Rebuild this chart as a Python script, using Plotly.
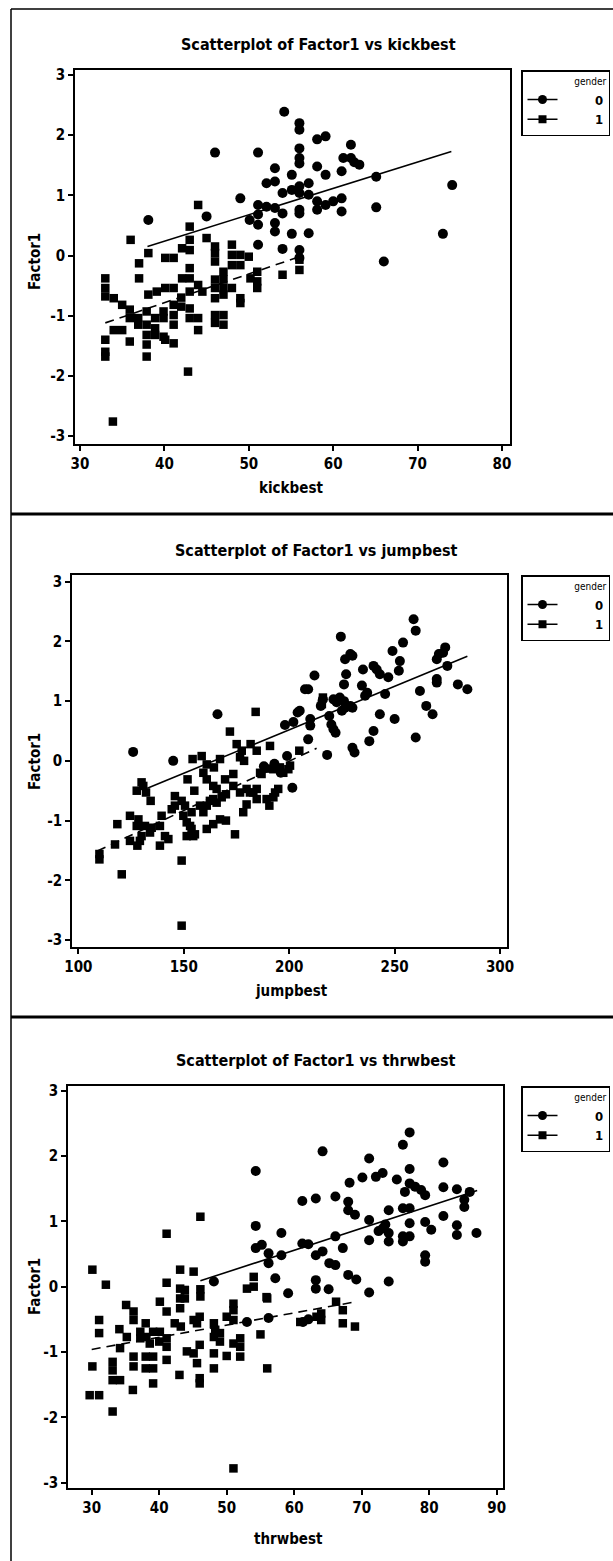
import plotly.graph_objects as go

W, H = 613, 1561

# ---------------- data ----------------
variables = ["kickbest", "jumpbest", "thrwbest"]
genders = ["0", "1"]
y_ticks = [-3, -2, -1, 0, 1, 2, 3]
y_tick_labels = ["-3", "-2", "-1", "0", "1", "2", "3"]
kick_ticks = [30, 40, 50, 60, 70, 80]
jump_ticks = [100, 150, 200, 250, 300]
thrw_ticks = [30, 40, 50, 60, 70, 80, 90]

# kickbest, gender 0 (circles)
kick_g0 = [(54.2, 2.39), (56, 2.2), (56, 2.09), (46, 1.71), (51.1, 1.71), (56, 1.78), (56, 1.53),
           (58.1, 1.93), (59.1, 1.98), (62.1, 1.84), (61.2, 1.62), (62.1, 1.62), (63.1, 1.51),
           (61, 1.40), (53.1, 1.45), (55.1, 1.34), (52.1, 1.2), (53.1, 1.23), (58.1, 1.48),
           (59.1, 1.34), (57.1, 1.2), (65.1, 1.31), (74.1, 1.17), (49, 0.95), (54, 1.04),
           (55.1, 1.09), (56, 1.15), (56, 1.04), (57.1, 1.01), (58.1, 0.9), (59.1, 0.84), (60, 0.9),
           (61, 0.95), (58.1, 0.76), (61, 0.73), (65.1, 0.8), (51.1, 0.84), (52.1, 0.81), (53.1, 0.79),
           (54, 0.7), (56, 0.76), (56, 0.7), (51.1, 0.68), (50.1, 0.59), (51.1, 0.51), (53.1, 0.54),
           (53.1, 0.4), (55.1, 0.36), (57.1, 0.37), (73, 0.36), (38.1, 0.59), (45, 0.65), (51.1, 0.18),
           (54, 0.11), (56, 0.09), (56, -0.04), (66, -0.1), (56, 1.62), (62.5, 1.55)]
# kickbest, gender 1 (squares)
kick_g1 = [(44, 0.84), (43, 0.48), (36, 0.26), (38.1, 0.04), (37, -0.13), (37, -0.38), (40.1, -0.04),
           (41.1, -0.04), (43, 0.26), (43, 0.09), (42.1, 0.12), (45, 0.29), (46, 0.15), (46, 0.04),
           (46, -0.1), (48, 0.18), (48, 0.01), (49, 0.01), (50, -0.02), (47, -0.27), (47, -0.40),
           (48, -0.16), (49, -0.16), (46, -0.4), (46, -0.54), (46, -0.71), (43, -0.21), (43, -0.38),
           (42.1, -0.38), (44, -0.49), (43, -0.6), (41.1, -0.54), (40.1, -0.54), (39.1, -0.6),
           (38.1, -0.65), (48, -0.54), (49, -0.71), (49, -0.79), (47, -0.54), (47, -0.65), (51, -0.27),
           (51, -0.43), (51, -0.54), (50.2, -0.38), (54, -0.32), (56, -0.07), (56, -0.24), (33, -0.38),
           (33, -0.54), (33, -0.68), (34, -0.71), (35, -0.82), (35.9, -0.9), (35.9, -1.04), (36.9, -1.04),
           (36.9, -1.15), (37.9, -0.93), (37.9, -1.15), (37.9, -1.32), (37.9, -1.48), (38.9, -1.04),
           (38.9, -1.21), (38.9, -1.32), (39.9, -0.93), (39.9, -1.04), (39.9, -1.35), (41.1, -0.82),
           (41.1, -0.99), (41.1, -1.15), (41.1, -1.46), (43, -0.88), (43, -1.04), (44, -1.04),
           (44, -1.24), (46, -0.99), (46, -1.12), (47, -0.99), (47, -1.15), (33, -1.4), (33, -1.6),
           (33, -1.68), (34, -1.24), (35, -1.24), (35.9, -1.43), (37.9, -1.68), (40.1, -1.4),
           (42.8, -1.93), (33.9, -2.76), (42, -0.7), (42, -0.85), (44.5, -0.6)]

# jumpbest, gender 0 (circles)
jump_g0 = [(126, 0.15), (145, 0.0), (166, 0.78), (198, 0.60), (202, 0.65), (204, 0.81), (205, 0.84),
           (207.5, 1.2), (209, 1.2), (212, 1.43), (210, 0.70), (210, 0.59), (209, 0.36), (215, 0.92),
           (216, 1.03), (218, 0.10), (219, 0.75), (220, 0.61), (221, 0.53), (222, 0.47), (221, 1.03),
           (222.5, 0.98), (224, 1.06), (226, 1.0), (225, 0.84), (226.5, 0.89), (229, 0.92), (230, 0.89),
           (224.5, 2.08), (226.5, 1.70), (227, 1.45), (229, 1.79), (230, 1.76), (226, 1.28), (230, 0.22),
           (231, 0.14), (235, 1.53), (234.5, 1.26), (237, 1.14), (236, 1.09), (240, 1.59), (241.5, 1.53),
           (243, 1.45), (247, 1.40), (243, 0.78), (245.5, 1.12), (240, 0.50), (238, 0.33), (249, 1.84),
           (254, 1.98), (252.5, 1.67), (252, 1.51), (250, 0.70), (259, 2.37), (260, 2.18), (260, 0.39),
           (262, 1.17), (265, 0.92), (268, 0.78), (270, 1.70), (271, 1.79), (274, 1.90), (273, 1.81),
           (270, 1.37), (270, 1.31), (275, 1.59), (280, 1.28), (284.5, 1.2), (188, -0.09), (199, 0.08),
           (201.5, -0.45), (193, -0.05), (196, -0.2)]
# jumpbest, gender 1 (squares)
jump_g1 = [(184.1, 0.82), (171.9, 0.49), (175.1, 0.28), (177.5, 0.17), (181.7, 0.28), (184.6, 0.17),
           (178.6, 0.0), (176.7, 0.06), (190.9, 0.25), (158.5, 0.08), (154.2, 0.03), (160.9, -0.06),
           (164.3, -0.11), (167.2, 0.03), (151.8, -0.31), (155, -0.5), (159.3, -0.2), (160.9, -0.31),
           (164, -0.42), (165.6, -0.47), (169.6, -0.31), (173.5, -0.22), (170, -0.56), (173.5, -0.42),
           (176.7, -0.53), (179.8, -0.47), (181.4, -0.53), (184.6, -0.47), (184.6, -0.64), (130, -0.36),
           (127.7, -0.5), (132.1, -0.53), (134.3, -0.67), (145.8, -0.59), (149, -0.67), (150.6, -0.75),
           (153.7, -0.86), (145.8, -0.75), (144.3, -0.81), (139.5, -0.92), (138.7, -1.09), (141.1, -1.26),
           (142.7, -1.31), (124.5, -0.92), (128.5, -0.98), (127.7, -1.09), (130, -1.26), (129.2, -1.34),
           (128, -1.42), (131.6, -1.09), (134, -1.2), (134.8, -1.12), (118.5, -1.06), (117.4, -1.4),
           (120.6, -1.9), (110, -1.56), (110, -1.65), (124.5, -1.34), (138.7, -1.42), (149, -1.67),
           (149, -2.76), (149.8, -0.92), (151.4, -1.03), (153.7, -1.14), (154.5, -1.26), (151.4, -1.26),
           (153, -1.09), (155.3, -1.23), (160.9, -1.14), (164, -1.06), (167.2, -0.98), (170, -1.0),
           (174.3, -1.23), (157.7, -0.75), (159.3, -0.86), (160.9, -0.75), (162.4, -0.67), (164, -0.64),
           (165.6, -0.7), (168, -0.61), (178.2, -0.86), (179.8, -0.73), (183, -0.53), (189.3, -0.64),
           (190.6, -0.75), (193.3, -0.53), (194.8, -0.47), (192.5, -0.61), (186.2, -0.2), (186.9, -0.22),
           (189.3, -0.13), (192.5, -0.14), (195.6, -0.11), (197.2, -0.2), (199.6, -0.14), (200.4, -0.08),
           (130.8, -0.42), (204.8, 0.17), (215.5, 0.95), (216, 1.06)]

# thrwbest, gender 0 (circles)
thrw_g0 = [(77.1, 2.36), (76.1, 2.17), (64.2, 2.07), (71.1, 1.96), (82.1, 1.90), (77.1, 1.80), (54.3, 1.77),
           (72.1, 1.68), (73.1, 1.74), (70.1, 1.67), (68.2, 1.59), (75.2, 1.64), (77.1, 1.58), (77.9, 1.53),
           (79.4, 1.40), (76.4, 1.45), (78.8, 1.48), (82.1, 1.52), (84.1, 1.49), (86.0, 1.45), (85.2, 1.33),
           (85.2, 1.22), (61.2, 1.31), (63.2, 1.35), (66.1, 1.38), (68, 1.30), (68, 1.17), (69, 1.10),
           (71.1, 1.02), (73.1, 0.89), (74, 1.17), (76.1, 1.2), (77.1, 1.2), (82.1, 1.08), (79.4, 0.99),
           (80.3, 0.87), (77.1, 0.97), (77.1, 0.77), (76.1, 0.77), (76.1, 0.69), (74, 0.82), (74, 0.69),
           (71.1, 0.71), (84.1, 0.94), (84.1, 0.79), (87, 0.82), (79.4, 0.48), (79.4, 0.38), (54.3, 0.93),
           (58.1, 0.82), (54.3, 0.59), (55.2, 0.64), (56.2, 0.51), (56.2, 0.36), (58.1, 0.48), (61.2, 0.66),
           (62.1, 0.65), (64.2, 0.54), (63.2, 0.48), (65.2, 0.36), (66.1, 0.33), (66.1, 0.77), (67.2, 0.59),
           (57.2, 0.13), (59.1, -0.1), (63.2, -0.03), (65.1, -0.04), (63.2, 0.1), (68, 0.18), (69.2, 0.11),
           (71.1, -0.09), (74, 0.08), (61.3, -0.54), (62.1, -0.5), (53, -0.54), (56.2, -0.48), (48.1, 0.08),
           (72.5, 0.85), (73.5, 0.95)]
# thrwbest, gender 1 (squares)
thrw_g1 = [(46.1, 1.07), (41.1, 0.81), (30.1, 0.26), (32.1, 0.03), (43.1, 0.26), (45.1, 0.23), (41.1, 0.06),
           (43.1, -0.03), (43.8, -0.05), (43.1, -0.18), (43.8, -0.18), (43.1, -0.33), (46.1, -0.04),
           (46.1, -0.15), (40.1, -0.23), (41.1, -0.38), (35.1, -0.28), (36.2, -0.38), (36.2, -0.51),
           (38, -0.56), (37.2, -0.69), (39.1, -0.69), (40.1, -0.69), (31.1, -0.51), (31.1, -0.71),
           (34.1, -0.65), (42.3, -0.56), (43.2, -0.61), (45.1, -0.51), (46, -0.46), (45.6, -0.56),
           (48.1, -0.56), (49, -0.71), (48.3, -0.66), (49, -0.84), (48.1, -0.77), (50, -0.46), (51, -0.51),
           (51, -0.26), (51, -0.36), (53, -0.03), (54, 0.0), (54, 0.15), (55.9, -0.16), (55, -0.73),
           (52, -0.79), (51, -0.87), (52, -0.92), (50, -1.06), (52, -1.07), (48.1, -1.02), (48.1, -1.25),
           (46, -0.89), (45.1, -1.02), (44.1, -0.99), (45.6, -1.17), (46, -1.4), (46, -1.48), (43, -1.35),
           (41.1, -0.79), (41.1, -0.92), (41.1, -1.12), (40, -0.84), (38.6, -0.87), (37.2, -0.79),
           (38, -1.07), (39.1, -1.07), (38, -1.25), (39.1, -1.25), (36.2, -1.07), (36.2, -1.22),
           (34.2, -0.94), (33.1, -1.15), (33.1, -1.28), (33.1, -1.43), (34.2, -1.43), (30.1, -1.22),
           (29.7, -1.66), (31.1, -1.66), (36.1, -1.58), (39.1, -1.48), (33.1, -1.91), (51, -2.78),
           (56, -1.25), (56, -0.18), (60.9, -0.54), (63.3, -0.46), (64, -0.41), (64, -0.51), (66.2, -0.23),
           (67.2, -0.36), (67.2, -0.56), (69, -0.61), (35.2, -0.77), (38.1, -0.77)]

# fitted regression lines (end points)
kick_fit0_x, kick_fit0_y = [38, 74], [0.15, 1.73]
kick_fit1_x, kick_fit1_y = [33, 56], [-1.12, -0.02]
jump_fit0_x, jump_fit0_y = [132.7, 284.5], [-0.46, 1.75]
jump_fit1_x, jump_fit1_y = [109, 213], [-1.51, 0.21]
thrw_fit0_x, thrw_fit0_y = [46.1, 87.1], [0.09, 1.47]
thrw_fit1_x, thrw_fit1_y = [30, 69.2], [-0.96, -0.23]

# ---------------- layout geometry (pixels) ----------------
FONT = "Liberation Sans Narrow, DejaVu Sans Condensed, Arial Narrow, sans-serif"
boxes = [  # left, right, top, bottom
    (75, 510, 70, 444),
    (72, 507, 575, 947),
    (68, 503, 1086, 1488),
]
x_ranges = [[29.41, 80.95], [97.0, 303.3], [26.49, 90.93]]
y_ranges = [[-3.133, 3.083], [-3.117, 3.112], [-3.08, 3.07]]
x_tick_sets = [kick_ticks, jump_ticks, thrw_ticks]
title_pos = [(318, 44), (316, 550), (316, 1060)]
xtitle_pos = [(291, 488), (291, 991), (288, 1539)]
ytitle_pos = [(35, 262), (35, 762), (35, 1287)]

groups = [
    (kick_g0, kick_g1, kick_fit0_x, kick_fit0_y, kick_fit1_x, kick_fit1_y),
    (jump_g0, jump_g1, jump_fit0_x, jump_fit0_y, jump_fit1_x, jump_fit1_y),
    (thrw_g0, thrw_g1, thrw_fit0_x, thrw_fit0_y, thrw_fit1_x, thrw_fit1_y),
]


def px(x):
    return x / W


def py(y):
    return 1 - y / H


fig = go.Figure()
annotations = []
layout_axes = {}
legend_names = ["legend", "legend2", "legend3"]

for i, (g0, g1, f0x, f0y, f1x, f1y) in enumerate(groups):
    xa = "x" if i == 0 else f"x{i + 1}"
    ya = "y" if i == 0 else f"y{i + 1}"
    xkey = "xaxis" if i == 0 else f"xaxis{i + 1}"
    ykey = "yaxis" if i == 0 else f"yaxis{i + 1}"
    L, R, T, B = boxes[i]

    fig.add_trace(go.Scatter(x=[p[0] for p in g0], y=[p[1] for p in g0], mode="markers",
                             marker=dict(symbol="circle", size=10, color="black"),
                             xaxis=xa, yaxis=ya, showlegend=False))
    fig.add_trace(go.Scatter(x=[p[0] for p in g1], y=[p[1] for p in g1], mode="markers",
                             marker=dict(symbol="square", size=8.5, color="black"),
                             xaxis=xa, yaxis=ya, showlegend=False))
    fig.add_trace(go.Scatter(x=f0x, y=f0y, mode="lines", line=dict(color="black", width=1.6),
                             xaxis=xa, yaxis=ya, showlegend=False))
    fig.add_trace(go.Scatter(x=f1x, y=f1y, mode="lines",
                             line=dict(color="black", width=1.6, dash="9px,6px"),
                             xaxis=xa, yaxis=ya, showlegend=False))
    # legend entries
    for g, sym, sz in zip(genders, ["circle", "square"], [9, 8]):
        fig.add_trace(go.Scatter(x=[None], y=[None], mode="lines+markers",
                                 name="\u00a0" * 8 + g, legend=legend_names[i],
                                 marker=dict(symbol=sym, size=sz, color="black"),
                                 line=dict(color="black", width=1.5),
                                 xaxis=xa, yaxis=ya, showlegend=True))

    axis_common = dict(showline=True, mirror=True, linecolor="black", linewidth=1.6,
                       ticks="outside", ticklen=5, tickwidth=1.5, tickcolor="black",
                       showgrid=False, zeroline=False,
                       tickfont=dict(family=FONT, size=15, color="black", weight="bold"))
    layout_axes[xkey] = dict(domain=[px(L), px(R)], range=x_ranges[i], anchor=ya,
                             tickmode="array", tickvals=x_tick_sets[i],
                             ticktext=[str(t) for t in x_tick_sets[i]], **axis_common)
    layout_axes[ykey] = dict(domain=[py(B), py(T)], range=y_ranges[i], anchor=xa,
                             tickmode="array", tickvals=y_ticks, ticktext=y_tick_labels,
                             **axis_common)

    tx, ty = title_pos[i]
    annotations.append(dict(text=f"Scatterplot of Factor1 vs {variables[i]}", x=px(tx), y=py(ty),
                            xref="paper", yref="paper", showarrow=False, xanchor="center",
                            yanchor="middle",
                            font=dict(family=FONT, size=16, color="black", weight="bold")))
    ax_, ay_ = xtitle_pos[i]
    annotations.append(dict(text=variables[i], x=px(ax_), y=py(ay_), xref="paper", yref="paper",
                            showarrow=False, xanchor="center", yanchor="middle",
                            font=dict(family=FONT, size=15, color="black", weight="bold")))
    bx_, by_ = ytitle_pos[i]
    annotations.append(dict(text="Factor1", x=px(bx_), y=py(by_), xref="paper", yref="paper",
                            showarrow=False, xanchor="center", yanchor="middle", textangle=-90,
                            font=dict(family=FONT, size=15, color="black", weight="bold")))

    layout_axes[legend_names[i]] = dict(
        x=px(521), y=py(T), xanchor="left", yanchor="top",
        bgcolor="white", bordercolor="black", borderwidth=1.5,
        font=dict(family=FONT, size=13, color="black", weight="bold"),
        title=dict(text="gender", side="top right",
                   font=dict(family=FONT, size=10, color="black", weight="normal")),
        itemwidth=30, tracegroupgap=0, itemclick=False, itemdoubleclick=False,
    )

# outer frame lines (scanned page borders)
shapes = [
    dict(type="line", xref="paper", yref="paper", x0=px(11), x1=px(11), y0=py(9), y1=py(1561),
         line=dict(color="black", width=1.5)),
    dict(type="line", xref="paper", yref="paper", x0=px(11), x1=1, y0=py(9), y1=py(9),
         line=dict(color="black", width=1.5)),
    dict(type="line", xref="paper", yref="paper", x0=px(11), x1=1, y0=py(514), y1=py(514),
         line=dict(color="black", width=3)),
    dict(type="line", xref="paper", yref="paper", x0=px(11), x1=1, y0=py(1017), y1=py(1017),
         line=dict(color="black", width=3)),
]

fig.update_layout(
    width=W, height=H, margin=dict(l=0, r=0, t=0, b=0, autoexpand=False),
    paper_bgcolor="white", plot_bgcolor="white",
    annotations=annotations, shapes=shapes,
    **layout_axes,
)

fig.write_html(
    "out.html",
    config={"displayModeBar": False},
    post_script="document.body.style.margin='0';document.body.style.overflow='hidden';",
)
